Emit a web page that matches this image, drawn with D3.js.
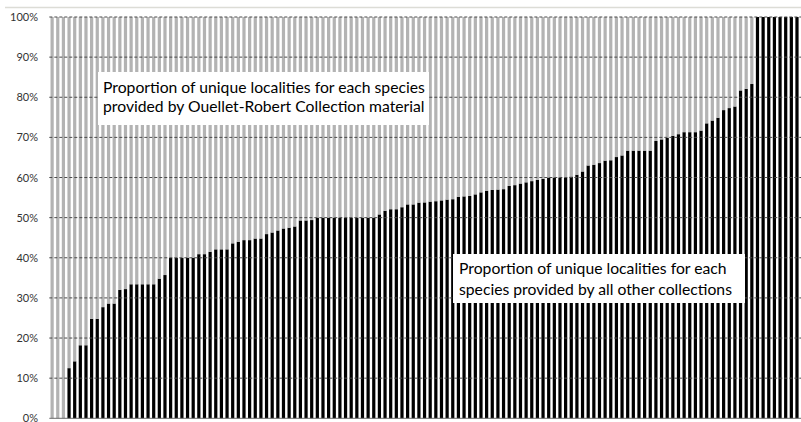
<!DOCTYPE html>
<html>
<head>
<meta charset="utf-8">
<script src="https://cdn.jsdelivr.net/npm/d3@7/dist/d3.min.js"></script>
<style>
  body { margin: 0; background: #fff; }
  text { font-family: Lato, "Open Sans", "DejaVu Sans", sans-serif; }
</style>
</head>
<body>
<script>
// share (%) of unique localities per species given by all other collections, sorted
var otherShare = [
	0, 0, 0, 12.5, 14.2, 18.2, 18.2, 24.8, 24.8, 27.7,
	28.6, 28.6, 32, 32.2, 33.4, 33.4, 33.4, 33.4, 33.4, 34.8,
	35.7, 40, 40, 40, 40, 40, 40.9, 40.9, 41.5, 42.1,
	42.1, 42.1, 43.6, 44, 44.4, 44.4, 44.8, 44.8, 45.9, 46.3,
	46.8, 47.3, 47.5, 47.8, 49.3, 49.3, 49.4, 50, 50, 50,
	50, 50, 50, 50, 50, 50, 50, 50, 50.8, 51.7,
	52.1, 52.1, 52.6, 53.3, 53.3, 53.75, 53.8, 54, 54.1, 54.3,
	54.5, 54.6, 55.2, 55.3, 55.4, 55.8, 56.3, 56.7, 56.9, 57,
	57.1, 57.9, 58.1, 58.5, 58.8, 59.1, 59.4, 59.7, 60, 60,
	60, 60, 60.25, 60.7, 61.5, 63, 63.2, 63.6, 64.2, 64.3,
	65.1, 65.5, 66.7, 66.7, 66.7, 66.7, 66.7, 69.1, 69.5, 69.9,
	70.4, 70.8, 71.3, 71.3, 71.3, 71.7, 73.5, 74.2, 74.9, 76.8,
	77.3, 77.7, 81.7, 82.1, 83.3, 100, 100, 100, 100, 100,
	100, 100, 100
];
// the rest comes from the Ouellet-Robert Collection
var ouelletShare = otherShare.map(function (d) { return 100 - d; });
var species = otherShare.map(function (d, i) { return 'sp' + (i + 1); });

var yTicks = [0, 10, 20, 30, 40, 50, 60, 70, 80, 90, 100];

var labelTop = ['Proportion of unique localities for each species',
	'provided by Ouellet-Robert Collection material'];
var labelBottom = ['Proportion of unique localities for each',
	'species provided by all other collections'];

var svgWidth = 801;
var svgHeight = 422;
var plot = {left: 49.3, right: 799.8, top: 17, bottom: 418.3};

var svg = d3.select('body')
	.append('svg')
	.attr('width', svgWidth)
	.attr('height', svgHeight);

svg.append('rect')
	.attr('width', svgWidth)
	.attr('height', svgHeight)
	.attr('fill', '#fff');

// light frame line of the chart area
svg.append('line')
	.attr('x1', 5).attr('x2', svgWidth)
	.attr('y1', 7.5).attr('y2', 7.5)
	.attr('stroke', '#dcdcd6')
	.attr('stroke-width', 1.5);

var x = d3.scaleBand()
	.domain(species)
	.range([plot.left, plot.right])
	.paddingInner(0.43)
	.paddingOuter(0.215);

var y = d3.scaleLinear()
	.domain([0, 100])
	.range([plot.bottom, plot.top]);

var rows = species.map(function (s, i) {
	return {sp: s, other: otherShare[i], ouellet: ouelletShare[i]};
});
var stack = d3.stack().keys(['other', 'ouellet'])(rows);
var colors = {other: '#000', ouellet: '#b3b3b3'};

svg.append('g')
	.selectAll('g')
	.data(stack)
	.enter()
	.append('g')
	.attr('fill', function (d) { return colors[d.key]; })
	.selectAll('rect')
	.data(function (d) { return d; })
	.enter()
	.append('rect')
	.attr('x', function (d) { return x(d.data.sp); })
	.attr('width', x.bandwidth())
	.attr('y', function (d) { return y(d[1]); })
	.attr('height', function (d) { return y(d[0]) - y(d[1]); });

// gridlines (dashed) and the 0% base line
svg.append('g')
	.selectAll('line')
	.data(yTicks)
	.enter()
	.append('line')
	.attr('x1', plot.left)
	.attr('x2', svgWidth)
	.attr('y1', function (d) { return y(d); })
	.attr('y2', function (d) { return y(d); })
	.attr('stroke', function (d) { return d === 0 ? '#6b6b6b' : '#4a4a4a'; })
	.attr('stroke-width', 1)
	.attr('stroke-dasharray', function (d) { return d === 0 ? null : '3,2'; });

var yAxis = d3.axisLeft(y)
	.tickValues(yTicks)
	.tickFormat(function (d) { return d + '%'; })
	.tickSize(0)
	.tickPadding(0);

var yAxisG = svg.append('g')
	.attr('transform', 'translate(38,0)')
	.call(yAxis);
yAxisG.select('.domain').remove();
yAxisG.selectAll('text')
	.attr('fill', '#333')
	.style('font-size', '11px');

// text boxes over the bars
function textBox(lines, box, tx, baselines, size) {
	var g = svg.append('g');
	g.append('rect')
		.attr('x', box.x).attr('y', box.y)
		.attr('width', box.w).attr('height', box.h)
		.attr('fill', '#fff');
	g.selectAll('text')
		.data(lines)
		.enter()
		.append('text')
		.attr('x', tx)
		.attr('y', function (d, i) { return baselines[i]; })
		.attr('fill', '#000')
		.style('font-size', size + 'px')
		.text(function (d) { return d; });
}

// fit the font so the first line is as wide as in the picture
var probe = svg.append('text').style('font-size', '15px').text(labelTop[0]);
var fontSize = 15 * 322 / probe.node().getComputedTextLength();
probe.remove();

textBox(labelTop, {x: 98, y: 72, w: 331, h: 53}, 103, [93, 111.5], fontSize);
textBox(labelBottom, {x: 453, y: 254, w: 292, h: 49}, 459, [274, 295], fontSize);
</script>
</body>
</html>
